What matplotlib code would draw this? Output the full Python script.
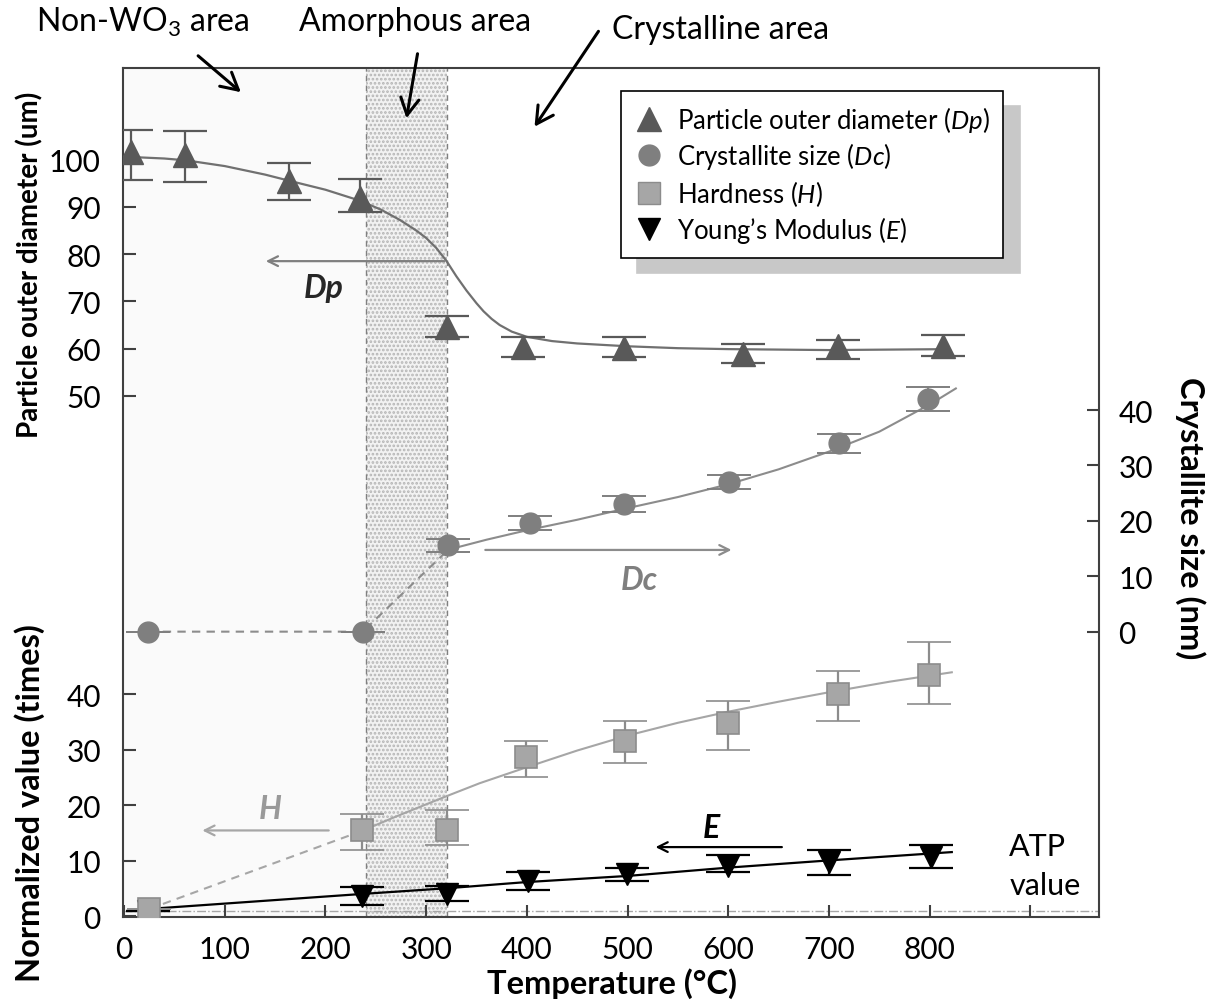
import numpy as np
import matplotlib
matplotlib.use('Agg')
import matplotlib.pyplot as plt
from matplotlib.patches import FancyArrowPatch

plt.rcParams['font.family'] = ['Lato', 'DejaVu Sans']
plt.rcParams['mathtext.fontset'] = 'custom'
plt.rcParams['mathtext.rm'] = 'Lato'
plt.rcParams['mathtext.it'] = 'Lato:italic'
plt.rcParams['mathtext.bf'] = 'Lato:bold'
plt.rcParams['hatch.linewidth'] = 1.3

# ---- data ----
# particle outer diameter Dp (um)
dp_temp = [7, 61, 164, 234, 321, 396, 496, 615, 709, 813]
dp_val = [101.5, 101.0, 95.5, 91.9, 64.5, 60.3, 60.2, 58.9, 60.5, 60.6]
dp_lo = [95.6, 95.2, 91.5, 88.8, 62.5, 58.2, 58.2, 57.0, 57.8, 58.5]
dp_hi = [106.3, 106.0, 99.2, 95.8, 66.9, 62.5, 62.5, 61.0, 61.9, 62.9]
dp_fit_t = [9, 40, 62, 100, 140, 164, 200, 234, 255, 274, 290, 300, 310, 320, 330,
            340, 350, 357, 365, 373, 385, 400, 425, 450, 500, 550, 600, 700, 820]
dp_fit_v = [100.5, 100.2, 99.8, 98.6, 96.8, 95.5, 93.6, 91.3, 89.4, 87.2, 85.0, 83.4, 81.3, 78.6, 75.3,
            72.3, 69.6, 67.9, 66.3, 65.0, 63.6, 62.5, 61.6, 61.1, 60.5, 60.1, 59.9, 59.7, 59.9]

# crystallite size Dc (nm)
dc_temp = [24, 237, 322, 403, 496, 601, 710, 798]
dc_val = [0, 0, 15.6, 19.6, 23.0, 27.0, 34.0, 42.0]
dc_err = [0, 0, 1.2, 1.3, 1.4, 1.3, 1.7, 2.2]
dc_dash_t = [24, 237, 322]
dc_dash_v = [0, 0, 14.8]
dc_fit_t = [322, 360, 400, 450, 500, 550, 600, 650, 700, 750, 800, 826]
dc_fit_v = [14.8, 16.6, 18.3, 20.2, 22.3, 24.3, 26.6, 29.3, 32.5, 36.1, 41.0, 43.9]

# hardness H (normalized)
h_temp = [25, 236, 321, 399, 497, 600, 709, 799]
h_val = [1.35, 15.5, 15.6, 28.7, 31.7, 34.9, 40.0, 43.5]
h_lo = [1.35, 11.9, 12.9, 25.1, 27.7, 30.0, 35.3, 38.2]
h_hi = [1.35, 18.5, 19.2, 31.6, 35.3, 38.9, 44.2, 49.4]
h_dash_t = [25, 236]
h_dash_v = [1.35, 15.4]
h_fit_t = [236, 270, 300, 322, 353, 400, 450, 500, 550, 600, 650, 700, 760, 822]
h_fit_v = [15.4, 18.0, 20.2, 21.8, 24.0, 26.9, 29.9, 32.6, 34.9, 36.9, 38.7, 40.4, 42.3, 44.0]

# Young's modulus E (normalized)
e_temp = [24, 236, 321, 401, 499, 600, 700, 801]
e_val = [1.0, 3.75, 4.05, 6.45, 7.66, 9.15, 9.8, 10.7]
e_lo = [1.0, 2.1, 2.7, 4.8, 6.3, 8.0, 7.5, 8.7]
e_hi = [1.0, 5.3, 5.4, 8.0, 8.7, 11.1, 11.9, 12.9]
e_fit_t = [24, 236, 322, 400, 500, 600, 700, 822]
e_fit_v = [1.35, 4.05, 5.1, 6.2, 7.3, 8.8, 10.1, 11.6]

atp_value = 1
amorph_start, amorph_end = 240, 321

x_ticks = [0, 100, 200, 300, 400, 500, 600, 700, 800, 900]
x_ticklabels = ['0', '100', '200', '300', '400', '500', '600', '700', '800', '']

fig = plt.figure(figsize=(12.17, 10.04), dpi=100)
ax = fig.add_axes([0.1011, 0.0857, 0.8018, 0.8456])
ax_dp = ax.twinx()
ax_dc = ax.twinx()
for a in (ax_dp, ax_dc):
    a.patch.set_visible(False)
    for s in a.spines.values():
        s.set_visible(False)

ax.set_xlim(-1, 968)
ax.set_ylim(-0.09, 152.9)
ax_dp.set_ylim(-60.15, 119.34)
ax_dc.set_ylim(-51.5, 101.75)

# background areas
ax.axvspan(-1, amorph_start, facecolor='#fafafa', edgecolor='none', zorder=0)
ax.axvspan(amorph_start, amorph_end, facecolor='#f2f2f2', edgecolor='#b5b5b5',
           hatch='....', linewidth=0, zorder=0)
for xv in (amorph_start, amorph_end):
    ax.axvline(xv, color='#808080', lw=1, ls=(0, (4, 3)), zorder=1)
ax.axhline(atp_value, color='#a6a6a6', lw=1, ls='-.', zorder=1)

cap = 16
# E
ax.plot(e_fit_t, e_fit_v, color='black', lw=1.6, zorder=3)
ax.errorbar(e_temp, e_val, yerr=[np.subtract(e_val, e_lo), np.subtract(e_hi, e_val)],
            fmt='v', ms=16, color='black', ecolor='black', elinewidth=1.6,
            capsize=cap, capthick=1.6, zorder=4)
# H
ax.plot(h_dash_t, h_dash_v, color='#a6a6a6', lw=1.5, ls=(0, (4, 3)), zorder=3)
ax.plot(h_fit_t, h_fit_v, color='#a6a6a6', lw=1.5, zorder=3)
ax.errorbar(h_temp, h_val, yerr=[np.subtract(h_val, h_lo), np.subtract(h_hi, h_val)],
            fmt='s', ms=16, mfc='#a6a6a6', mec='#8c8c8c', mew=1.2,
            ecolor='#8c8c8c', elinewidth=1.6, capsize=cap, capthick=1.6, zorder=5)
# Dc
ax_dc.plot(dc_dash_t, dc_dash_v, color='#8c8c8c', lw=1.5, ls=(0, (4, 3)), zorder=3)
ax_dc.plot(dc_fit_t, dc_fit_v, color='#8c8c8c', lw=1.5, zorder=3)
ax_dc.errorbar(dc_temp, dc_val, yerr=dc_err, fmt='o', ms=15, color='#7f7f7f',
               ecolor='#7f7f7f', elinewidth=1.4, capsize=cap, capthick=1.4, zorder=4)
# Dp
ax_dp.plot(dp_fit_t, dp_fit_v, color='#707070', lw=1.6, zorder=3)
ax_dp.errorbar(dp_temp, dp_val, yerr=[np.subtract(dp_val, dp_lo), np.subtract(dp_hi, dp_val)],
               fmt='^', ms=17, color='#595959', ecolor='#595959', elinewidth=1.6,
               capsize=cap, capthick=1.6, zorder=4)

# arrows and series labels
head = '->,head_length=0.7,head_width=0.35'
ax_dp.annotate('', xy=(138, 78.5), xytext=(321, 78.5),
               arrowprops=dict(arrowstyle=head, color='#7f7f7f', lw=1.6))
ax_dp.text(198, 73, 'Dp', fontsize=23, fontweight='bold', style='italic', color='#262626',
           ha='center', va='center')
ax_dc.annotate('', xy=(606, 14.75), xytext=(356, 14.75),
               arrowprops=dict(arrowstyle=head, color='#8c8c8c', lw=1.6))
ax_dc.text(512, 9.5, 'Dc', fontsize=23, fontweight='bold', style='italic', color='#7f7f7f',
           ha='center', va='center')
ax.annotate('', xy=(75, 15.5), xytext=(206, 15.5),
            arrowprops=dict(arrowstyle=head, color='#a6a6a6', lw=1.6))
ax.text(145, 19.4, 'H', fontsize=23, fontweight='bold', style='italic', color='#999999',
        ha='center', va='center')
ax.annotate('', xy=(525, 12.5), xytext=(656, 12.5),
            arrowprops=dict(arrowstyle=head, color='black', lw=1.6))
ax.text(583, 16.1, 'E', fontsize=23, fontweight='bold', style='italic', color='black',
        ha='center', va='center')
ax.text(879, 12.7, 'ATP', fontsize=22, ha='left', va='center')
ax.text(879, 5.7, 'value', fontsize=22, ha='left', va='center')

# ticks
ax.set_xticks(x_ticks)
ax.set_xticklabels(x_ticklabels)
ax.set_yticks([0, 10, 20, 30, 40])
ax_dp.set_yticks([50, 60, 70, 80, 90, 100])
ax_dp.yaxis.tick_left()
ax_dc.set_yticks([0, 10, 20, 30, 40])
ax_dc.yaxis.tick_right()
tick_kw = dict(direction='in', length=9, width=1.5, labelsize=21.5, color='#404040')
ax.tick_params(axis='x', pad=13, **tick_kw)
ax.tick_params(axis='y', pad=16, **tick_kw)
ax_dp.tick_params(axis='y', pad=16, **tick_kw)
ax_dc.tick_params(axis='y', pad=14, **tick_kw)
for s in ax.spines.values():
    s.set_color('#404040')
    s.set_linewidth(1.5)

# axis titles
fig.text(30 / 1217, 1 - 265 / 1004, 'Particle outer diameter (um)', rotation=90,
         fontsize=20, fontweight='bold', ha='center', va='center')
fig.text(30 / 1217, 1 - 803 / 1004, 'Normalized value (times)', rotation=90,
         fontsize=23.5, fontweight='bold', ha='center', va='center')
fig.text(1190 / 1217, 1 - 518 / 1004, 'Crystallite size (nm)', rotation=-90,
         fontsize=23.5, fontweight='bold', ha='center', va='center')
fig.text(612 / 1217, 1 - 984 / 1004, 'Temperature (\u00b0C)',
         fontsize=23.5, fontweight='bold', ha='center', va='center')

# area annotations above the plot
fig.text(143 / 1217, 1 - 22 / 1004, 'Non-WO$_3$ area', fontsize=23, ha='center', va='center')
fig.text(415 / 1217, 1 - 22 / 1004, 'Amorphous area', fontsize=23, ha='center', va='center')
fig.text(721 / 1217, 1 - 30 / 1004, 'Crystalline area', fontsize=23, ha='center', va='center')
for (x0, y0), (x1, y1) in [((196, 55), (243, 95)), ((418, 52), (406, 122)), ((600, 30), (533, 130))]:
    fig.add_artist(FancyArrowPatch(
        (x0 / 1217, 1 - y0 / 1004), (x1 / 1217, 1 - y1 / 1004),
        transform=fig.transFigure, arrowstyle='->,head_length=0.55,head_width=0.3',
        mutation_scale=22, color='black', lw=2.2))

# legend
handles = [
    plt.Line2D([], [], ls='none', marker='^', ms=17, color='#595959'),
    plt.Line2D([], [], ls='none', marker='o', ms=15, color='#7f7f7f'),
    plt.Line2D([], [], ls='none', marker='s', ms=16, mfc='#a6a6a6', mec='#8c8c8c'),
    plt.Line2D([], [], ls='none', marker='v', ms=16, color='black'),
]
labels = ['Particle outer diameter ($\\mathit{Dp}$)', 'Crystallite size ($\\mathit{Dc}$)',
          'Hardness ($\\mathit{H}$)', 'Young\u2019s Modulus ($\\mathit{E}$)']
leg = ax_dc.legend(handles, labels, loc='upper left', bbox_to_anchor=(0.510, 0.973),
                   borderaxespad=0, fontsize=18.5, frameon=True, fancybox=False,
                   shadow={'ox': 12, 'oy': -11, 'color': '#c8c8c8', 'alpha': 1},
                   borderpad=0.5, handlelength=1.2, handletextpad=0.5, labelspacing=0.25)
leg.get_frame().set_edgecolor('black')
leg.get_frame().set_linewidth(1.2)
leg.set_zorder(10)

fig.savefig('out.png', dpi=100)
